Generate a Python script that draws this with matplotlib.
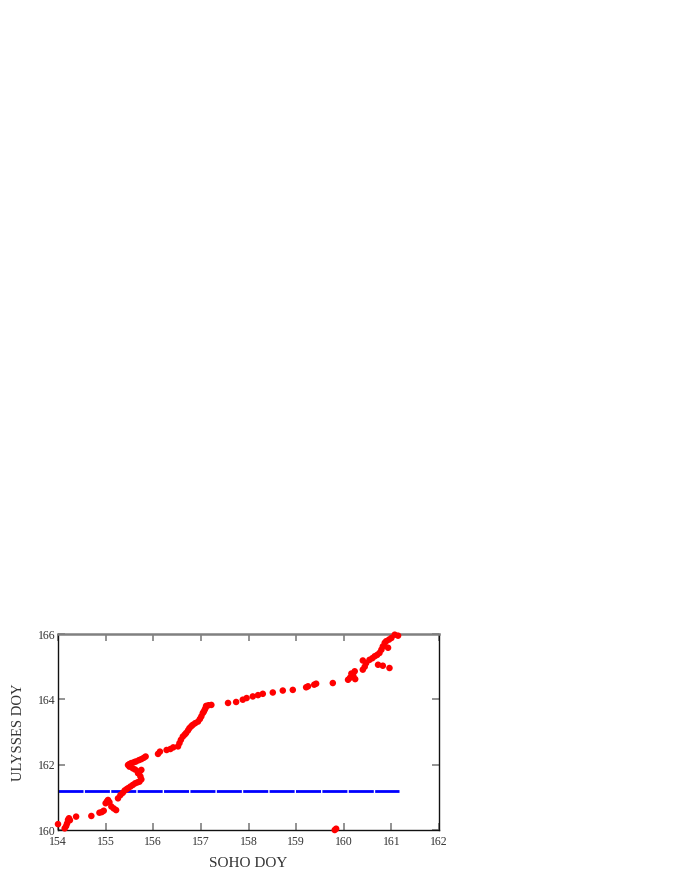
import matplotlib.pyplot as plt

# === Data ===
# red points: SOHO DOY vs ULYSSES DOY
soho_doy = [154.00, 154.14, 154.17, 154.19, 154.21, 154.23, 154.25, 154.38,
            154.70, 154.87, 154.92, 154.96, 155.00, 155.03, 155.05, 155.08,
            155.12, 155.17, 155.22, 155.26, 155.31, 155.36, 155.40, 155.44,
            155.47, 155.52, 155.57, 155.62, 155.67, 155.71, 155.75, 155.73,
            155.68, 155.72, 155.75, 155.62, 155.57, 155.50, 155.47, 155.50,
            155.54, 155.60, 155.64, 155.70, 155.75, 155.80, 155.84, 156.10,
            156.14, 156.28, 156.36, 156.42, 156.52, 156.55, 156.58, 156.62,
            156.66, 156.69, 156.73, 156.76, 156.80, 156.83, 156.88, 156.94,
            156.98, 157.01, 157.04, 157.06, 157.08, 157.10, 157.11, 157.16,
            157.22, 157.57, 157.74, 157.88, 157.96, 158.09, 158.20, 158.30,
            158.51, 158.72, 158.93, 159.21, 159.25, 159.38, 159.42, 159.77,
            160.09, 160.13, 160.16, 160.20, 160.23, 160.24, 160.40, 160.44,
            160.40, 160.47, 160.54, 160.60, 160.65, 160.70, 160.75, 160.79,
            160.82, 160.86, 160.89, 160.95, 161.00, 161.07, 161.14, 160.93,
            160.72, 160.82, 160.96, 159.81, 159.84]
ulysses_doy = [160.18, 160.05, 160.12, 160.20, 160.31, 160.36, 160.30, 160.41,
               160.43, 160.53, 160.55, 160.59, 160.82, 160.88, 160.92, 160.85,
               160.72, 160.66, 160.61, 160.97, 161.07, 161.14, 161.21, 161.25,
               161.28, 161.33, 161.38, 161.43, 161.46, 161.48, 161.55, 161.64,
               161.74, 161.80, 161.84, 161.85, 161.89, 161.94, 161.99, 162.02,
               162.05, 162.08, 162.10, 162.14, 162.17, 162.21, 162.25, 162.33,
               162.40, 162.45, 162.48, 162.53, 162.56, 162.66, 162.76, 162.86,
               162.92, 162.97, 163.05, 163.12, 163.18, 163.22, 163.27, 163.32,
               163.40, 163.48, 163.58, 163.62, 163.68, 163.74, 163.80, 163.82,
               163.83, 163.89, 163.92, 163.99, 164.04, 164.09, 164.13, 164.17,
               164.21, 164.27, 164.29, 164.37, 164.40, 164.45, 164.48, 164.50,
               164.60, 164.66, 164.79, 164.72, 164.86, 164.62, 164.91, 165.00,
               165.19, 165.11, 165.21, 165.26, 165.32, 165.36, 165.42, 165.52,
               165.62, 165.73, 165.78, 165.83, 165.88, 165.98, 165.95, 165.58,
               165.06, 165.03, 164.96, 160.00, 160.04]

# blue reference line
blue_doy = 161.2
blue_x = [154.0, 161.15]

x_ticks = [154, 155, 156, 157, 158, 159, 160, 161, 162]
y_ticks = [160, 162, 164, 166]

# === Figure ===
fig = plt.figure(figsize=(6.8, 8.8), dpi=100)
ax = fig.add_axes([0.0853, 0.0568, 0.5603, 0.2227])

ax.plot(blue_x, [blue_doy, blue_doy], color='#0000ff', linewidth=2,
        linestyle=(0, (9, 0.5)), zorder=2)
ax.scatter(soho_doy, ulysses_doy, s=22, color='#ff0000', edgecolors='none',
           zorder=3, clip_on=False)

ax.set_xlim(154, 162)
ax.set_ylim(160, 166)
ax.set_xticks(x_ticks)
ax.set_yticks(y_ticks)

ax.tick_params(direction='in', length=5, width=1.2, color='#808080',
               top=True, right=True, labelsize=8.5, labelcolor='#333333')
ax.tick_params(axis='x', pad=4)
ax.tick_params(axis='y', pad=2)
for tick in ax.get_xticklabels() + ax.get_yticklabels():
    tick.set_fontfamily('Liberation Serif')

for side in ['left', 'bottom', 'right']:
    ax.spines[side].set_color('#111111')
    ax.spines[side].set_linewidth(1)
ax.spines['top'].set_color('#808080')
ax.spines['top'].set_linewidth(1.8)

ax.set_xlabel("SOHO DOY", fontsize=11, family='Liberation Serif',
              color='#333333', labelpad=7)
ax.set_ylabel("ULYSSES DOY", fontsize=10.5, family='Liberation Serif',
              color='#333333', labelpad=9)

plt.savefig('out.png', dpi=100)
